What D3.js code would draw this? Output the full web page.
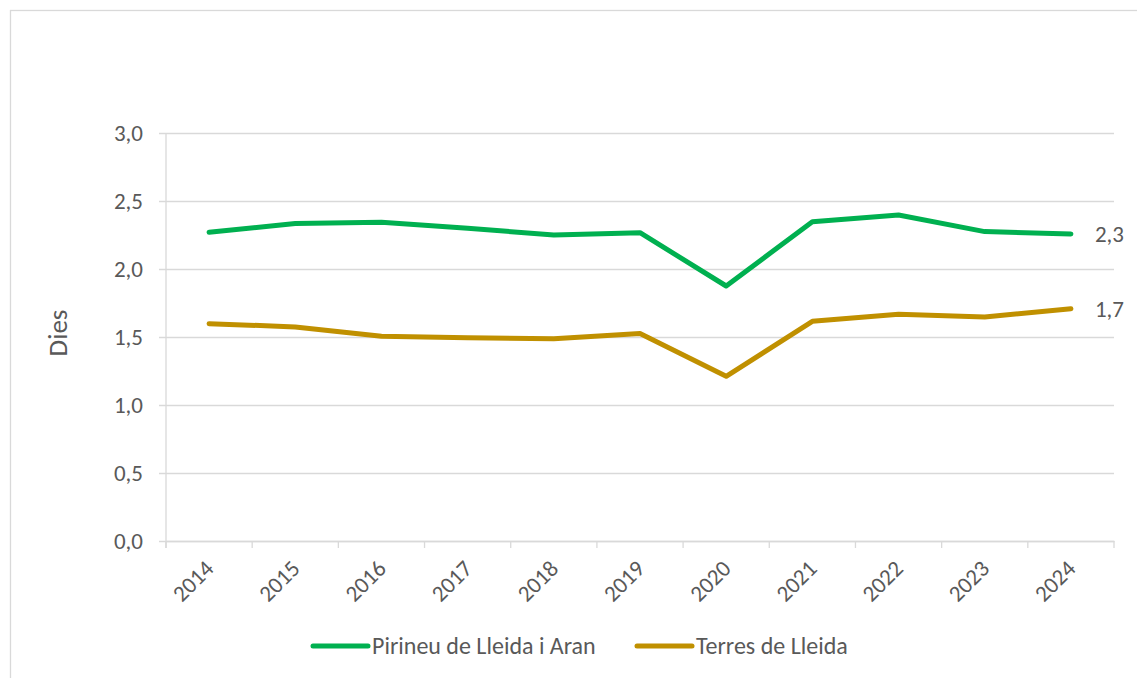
<!DOCTYPE html>
<html>
<head>
<meta charset="utf-8">
<script src="https://cdn.jsdelivr.net/npm/d3@7"></script>
<style>
  body { margin: 0; background: #fff; }
  svg text { font-family: Carlito, Calibri, Lato, "Open Sans", sans-serif; fill: #595959; }
</style>
</head>
<body>
<svg id="lineVis" width="1137" height="678"></svg>
<script>
const years = ['2014', '2015', '2016', '2017', '2018', '2019', '2020', '2021', '2022', '2023', '2024'];
const pirineuValues = [2.27, 2.335, 2.343, 2.30, 2.25, 2.267, 1.875, 2.348, 2.397, 2.275, 2.258];
const terresValues = [1.598, 1.574, 1.505, 1.494, 1.488, 1.525, 1.211, 1.615, 1.667, 1.647, 1.708];
const seriesNames = ['Pirineu de Lleida i Aran', 'Terres de Lleida'];
const seriesColors = ['#00B050', '#C09000'];
const yTicks = [0, 0.5, 1, 1.5, 2, 2.5, 3];
const yLabel = 'Dies';

const margin = { top: 133, left: 166, right: 23, bottom: 137 };
const chartWidth = 1137 - margin.left - margin.right;
const chartHeight = 678 - margin.top - margin.bottom;
const gridColor = '#D9D9D9';
const fmt = v => d3.format('.1f')(v).replace('.', ',');

const svg = d3.select('svg#lineVis');

// outer chart frame (runs off the right and bottom edges)
svg.append('rect')
    .attr('x', 10.5).attr('y', 10.5)
    .attr('width', 1200).attr('height', 800)
    .attr('fill', 'none')
    .attr('stroke', gridColor)
    .attr('stroke-width', 1.3);

const g = svg.append('g')
    .attr('transform', `translate(${margin.left},${margin.top})`);

const xScale = d3.scaleBand()
    .domain(years)
    .range([0, chartWidth]);

const yScale = d3.scaleLinear()
    .domain([0, 3])
    .range([chartHeight, 0]);

// y axis with gridlines
const yAxis = g.append('g')
    .attr('class', 'y-axis')
    .call(d3.axisLeft(yScale).tickValues(yTicks).tickFormat(fmt).tickSizeInner(-chartWidth).tickSizeOuter(0))
    .call(a => a.select('.domain').remove());
yAxis.selectAll('line')
    .attr('stroke', gridColor)
    .attr('stroke-width', 1.3)
    .attr('x1', -7);
yAxis.selectAll('text')
    .style('font-size', '23px')
    .attr('x', -23);

// left axis line
g.append('line')
    .attr('x1', 0).attr('x2', 0)
    .attr('y1', 0).attr('y2', chartHeight + 7)
    .attr('stroke', gridColor)
    .attr('stroke-width', 1.3);

// x axis
const xAxis = g.append('g')
    .attr('class', 'x-axis')
    .attr('transform', `translate(0,${chartHeight})`)
    .call(d3.axisBottom(xScale).tickSize(0).tickSizeOuter(0));
xAxis.select('.domain').attr('stroke', gridColor).attr('stroke-width', 1.3);

// tick marks between categories
g.append('g')
    .selectAll('line')
    .data(years.concat(['end']))
    .enter()
    .append('line')
    .attr('x1', (d, i) => i < years.length ? xScale(d) : chartWidth)
    .attr('x2', (d, i) => i < years.length ? xScale(d) : chartWidth)
    .attr('y1', chartHeight)
    .attr('y2', chartHeight + 7)
    .attr('stroke', gridColor)
    .attr('stroke-width', 1.3);

xAxis.selectAll('text')
    .style('font-size', '23px')
    .attr('text-anchor', 'end')
    .attr('dy', 0)
    .attr('y', 0)
    .attr('transform', 'translate(6,29) rotate(-45)');

// y label
g.append('text')
    .text(yLabel)
    .attr('transform', `translate(${-99},${chartHeight / 2 - 4}) rotate(-90)`)
    .attr('text-anchor', 'middle')
    .style('font-size', '27px');

// lines
const line = d3.line()
    .x((d, i) => xScale(years[i]) + xScale.bandwidth() / 2)
    .y(d => yScale(d));

const allSeries = [pirineuValues, terresValues];

g.append('g')
    .selectAll('path')
    .data(allSeries)
    .enter()
    .append('path')
    .attr('d', d => line(d))
    .attr('fill', 'none')
    .attr('stroke', (d, i) => seriesColors[i])
    .attr('stroke-width', 5)
    .attr('stroke-linejoin', 'round')
    .attr('stroke-linecap', 'round');

// end labels
g.append('g')
    .selectAll('text')
    .data(allSeries)
    .enter()
    .append('text')
    .text(d => fmt(d[d.length - 1]))
    .attr('x', xScale(years[years.length - 1]) + xScale.bandwidth() / 2 + 24)
    .attr('y', d => yScale(d[d.length - 1]))
    .attr('dy', '0.35em')
    .style('font-size', '23px');

// legend
const legendG = svg.append('g').attr('class', 'legend');
const legendX = [313, 637];
seriesNames.forEach((name, i) => {
    legendG.append('line')
        .attr('x1', legendX[i]).attr('x2', legendX[i] + 55)
        .attr('y1', 646).attr('y2', 646)
        .attr('stroke', seriesColors[i])
        .attr('stroke-width', 5)
        .attr('stroke-linecap', 'round');
    legendG.append('text')
        .text(name)
        .attr('x', legendX[i] + 59)
        .attr('y', 646)
        .attr('dy', '0.35em')
        .style('font-size', '24px');
});
</script>
</body>
</html>
